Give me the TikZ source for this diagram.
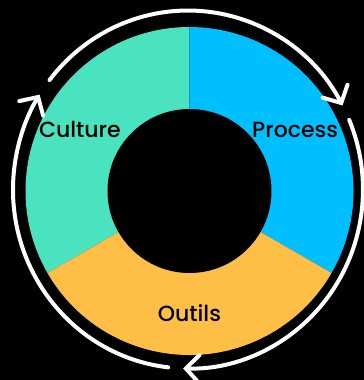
\documentclass[tikz,border=0pt]{standalone}
\usepackage{fontspec}
\setmainfont{Poppins}[UprightFont=* Medium]
\usetikzlibrary{positioning, arrows.meta}
\definecolor{culturecol}{RGB}{74,227,192}
\definecolor{processcol}{RGB}{0,191,255}
\definecolor{outilscol}{RGB}{255,191,71}
\tikzset{label node/.style={font=\fontsize{16.5}{19}\selectfont, text=black, inner sep=0pt},
    cycle arrow/.style={draw=white, line width=3pt, line cap=round,
        -{Straight Barb[length=10pt, width=21pt, line cap=round]}},}

\begin{document}
\begin{tikzpicture}[x=0.75pt, y=0.75pt]
        % Background
        \fill[black] (-189.5,-189) rectangle (174.5,191);
        \useasboundingbox (-189.5,-189) rectangle (174.5,191);
        % Ring
        \coordinate (core) at (0,0);
        \fill[culturecol] (core) -- (90:164) arc[start angle=90, end angle=210, radius=164] -- cycle;
        \fill[processcol] (core) -- (-30:164) arc[start angle=-30, end angle=90, radius=164] -- cycle;
        \fill[outilscol] (core) -- (210:164) arc[start angle=210, end angle=330, radius=164] -- cycle;
        \fill[black] (core) circle (82);
        % Labels
        \node[label node] (culture) at (150.5:126) {Culture};
        \node[label node] (process) at (30:122) {Process};
        \node[label node] (outils) at (270:122) {Outils};
        % Arrows
        \begin{scope}[shift={(-1.5,1.5)}]
        \coordinate (c1) at (142.3:175 and 179);
        \coordinate (c2) at (22.9:175 and 179);
        \coordinate (c3) at (263.5:175 and 179);
        \draw[cycle arrow] (c1) arc[start angle=142.3, end angle=28, x radius=175, y radius=179];
        \draw[cycle arrow] (c2) arc[start angle=22.9, end angle=-91.6, x radius=175, y radius=179];
        \draw[cycle arrow] (c3) arc[start angle=263.5, end angle=148, x radius=175, y radius=179];
        \end{scope}
    \end{tikzpicture}
\end{document}
